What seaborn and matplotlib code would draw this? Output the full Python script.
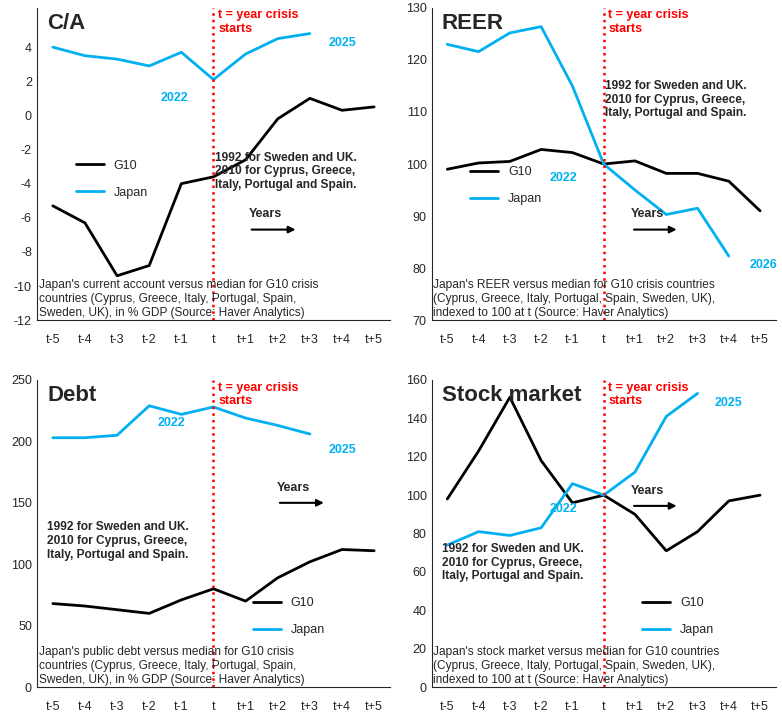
import numpy as np
import pandas as pd
import matplotlib
matplotlib.use("Agg")
import matplotlib.pyplot as plt
import seaborn as sns

sns.set_style("white")
plt.rcParams["font.family"] = ["Liberation Sans", "DejaVu Sans"]
plt.rcParams["axes.unicode_minus"] = False

periods = ["t-5", "t-4", "t-3", "t-2", "t-1", "t", "t+1", "t+2", "t+3", "t+4", "t+5"]

ca_g10 = [-5.3, -6.3, -9.4, -8.8, -4.0, -3.6, -2.6, -0.2, 1.0, 0.3, 0.5]
ca_japan = [4.0, 3.5, 3.3, 2.9, 3.7, 2.1, 3.6, 4.5, 4.8]
reer_g10 = [99, 100.2, 100.5, 102.8, 102.2, 100, 100.6, 98.2, 98.2, 96.7, 91]
reer_japan = [123, 121.6, 125.2, 126.4, 115, 100, 95, 90.3, 91.5, 82.3]
debt_g10 = [68, 66, 63, 60, 71, 80, 70, 89, 102, 112, 111]
debt_japan = [203, 203, 205, 229, 222, 228, 219, 213, 206]
stock_g10 = [98, 123, 151, 118, 96, 100, 90, 71, 81, 97, 100]
stock_japan = [74, 81, 79, 83, 106, 100, 112, 141, 153]

BLUE = "#00B0F0"
RED = "#FF0000"
note = "1992 for Sweden and UK.\n2010 for Cyprus, Greece,\nItaly, Portugal and Spain."

fig = plt.figure(figsize=(7.82, 7.21))
axes = np.array([
    [fig.add_axes([0.047, 0.556, 0.452, 0.433]), fig.add_axes([0.552, 0.556, 0.44, 0.433])],
    [fig.add_axes([0.047, 0.047, 0.452, 0.426]), fig.add_axes([0.552, 0.047, 0.44, 0.426])],
])


def panel(ax, title, g10, japan, ylim, yticks, caption, leg_pos, note_pos, years_pos,
          start_lbl, end_lbl):
    x = np.arange(len(periods))
    sns.lineplot(x=x[:len(g10)], y=g10, ax=ax, color="black", lw=2, label="G10")
    sns.lineplot(x=x[:len(japan)], y=japan, ax=ax, color=BLUE, lw=2, label="Japan")
    ax.set_xlim(-0.5, 10.5)
    ax.set_ylim(*ylim)
    ax.set_yticks(yticks)
    ax.set_xticks(x)
    ax.set_xticklabels(periods)
    ax.tick_params(labelsize=9, length=0)
    ax.tick_params(axis="x", pad=10)
    for s in ["top", "right"]:
        ax.spines[s].set_visible(False)
    ax.axvline(5, color=RED, ls=":", lw=1.8)
    ax.text(5.15, 0.995, "t = year crisis\nstarts", transform=ax.get_xaxis_transform(),
            color=RED, fontsize=9, fontweight="bold", va="top")
    ax.text(0.03, 0.985, title, transform=ax.transAxes, fontsize=16, fontweight="bold", va="top")
    ax.text(0.005, 0.005, caption, transform=ax.transAxes, fontsize=8.6, va="bottom")
    ax.text(*note_pos, note, transform=ax.transAxes, fontsize=8.6, fontweight="bold", va="top")
    ax.text(*years_pos, "Years", transform=ax.transAxes, fontsize=9, fontweight="bold")
    ax.annotate("", xy=(years_pos[0] + 0.14, years_pos[1] - 0.04),
                xytext=(years_pos[0], years_pos[1] - 0.04), xycoords="axes fraction",
                arrowprops=dict(arrowstyle="-|>", color="black", lw=1.5))
    ax.text(*start_lbl[:2], start_lbl[2], color=BLUE, fontsize=9, fontweight="bold",
            ha="center", va="top")
    ax.text(*end_lbl[:2], end_lbl[2], color=BLUE, fontsize=9, fontweight="bold",
            ha="center", va="bottom")
    ax.legend(loc="upper left", bbox_to_anchor=leg_pos, frameon=False, fontsize=9,
              handlelength=2.2, labelspacing=1.2)


panel(axes[0, 0], "C/A", ca_g10, ca_japan, (-12, 6.3), range(-12, 5, 2),
      "Japan's current account versus median for G10 crisis\ncountries (Cyprus, Greece, Italy, Portugal, Spain,\nSweden, UK), in % GDP (Source: Haver Analytics)",
      (0.08, 0.55), (0.505, 0.54), (0.6, 0.33), (3.8, 1.4, "2022"), (9.0, 3.9, "2025"))
panel(axes[0, 1], "REER", reer_g10, reer_japan, (70, 130), range(70, 131, 10),
      "Japan's REER versus median for G10 crisis countries\n(Cyprus, Greece, Italy, Portugal, Spain, Sweden, UK),\nindexed to 100 at t (Source: Haver Analytics)",
      (0.08, 0.53), (0.505, 0.77), (0.58, 0.33), (3.7, 98.5, "2022"), (10.1, 79.5, "2026"))
panel(axes[1, 0], "Debt", debt_g10, debt_japan, (0, 250), range(0, 251, 50),
      "Japan's public debt versus median for G10 crisis\ncountries (Cyprus, Greece, Italy, Portugal, Spain,\nSweden, UK), in % GDP (Source: Haver Analytics)",
      (0.58, 0.33), (0.03, 0.54), (0.68, 0.64), (3.7, 220, "2022"), (9.0, 188, "2025"))
panel(axes[1, 1], "Stock market", stock_g10, stock_japan, (0, 160), range(0, 161, 20),
      "Japan's stock market versus median for G10 countries\n(Cyprus, Greece, Italy, Portugal, Spain, Sweden, UK),\nindexed to 100 at t (Source: Haver Analytics)",
      (0.58, 0.33), (0.03, 0.47), (0.58, 0.63), (3.7, 96, "2022"), (9.0, 145, "2025"))

fig.savefig("out.png", dpi=100)
